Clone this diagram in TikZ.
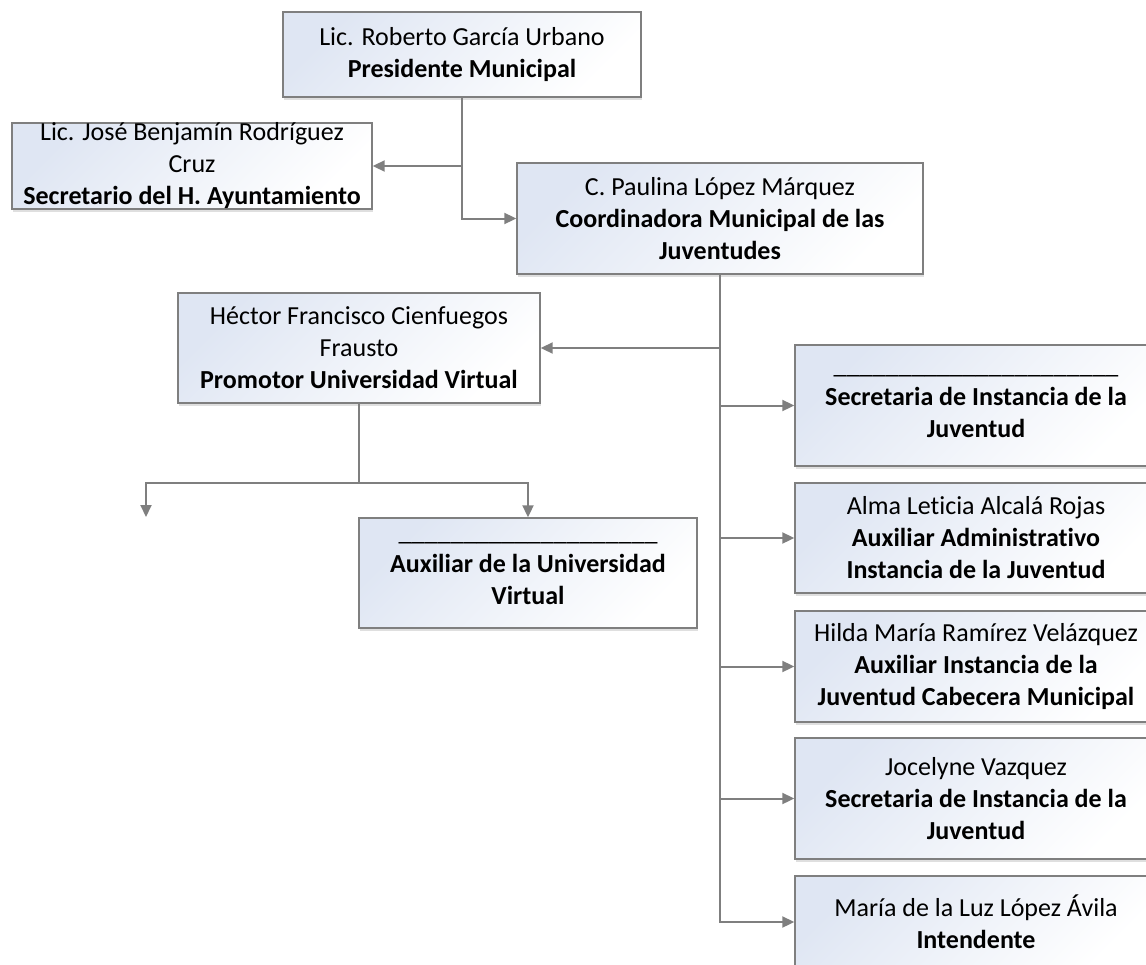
\documentclass[tikz,border=0pt]{standalone}
\usepackage{fontspec}
\setmainfont{Carlito}[Ligatures=CommonOff]
\usetikzlibrary{arrows.meta,shadows}
\definecolor{linegray}{HTML}{7F7F7F}
\definecolor{boxblue}{HTML}{DFE6F3}
\newcommand{\blankline}[1]{\foreach \k in {1,...,#1}{\_}}

\begin{document}
\begin{tikzpicture}[x=1pt,y=-1pt]
                \useasboundingbox (0,0) rectangle (1146,964);
                \clip (0,0) rectangle (1146,964);
                \begin{scope}[every node/.style={draw=linegray, line width=1.4pt, top color=boxblue, bottom color=white, shading angle=45, drop shadow={opacity=0.25, shadow xshift=0.5pt, shadow yshift=-2.5pt}, align=center, inner sep=0pt, minimum width=362pt, minimum height=110pt, font=\fontsize{26}{32}\selectfont}]
                        \node[minimum width=358pt, minimum height=85pt] (Pres) at (462,54.5) {Lic. Roberto García Urbano\\\textbf{Presidente Municipal}};
                        \node[minimum width=360pt, minimum height=86pt] (Sec) at (192,166) {Lic. José Benjamín Rodríguez\\Cruz\\\textbf{Secretario del H. Ayuntamiento}};
                        \node[minimum width=406pt, minimum height=111pt] (Coord) at (720,218.5) {C. Paulina López Márquez\\\textbf{Coordinadora Municipal de las}\\\textbf{Juventudes}};
                        \node (Prom) at (359,348) {Héctor Francisco Cienfuegos\\Frausto\\\textbf{Promotor Universidad Virtual}};
                        \node[minimum width=338pt] (AuxU) at (528,573) {\blankline{20}\\\textbf{Auxiliar de la Universidad}\\\textbf{Virtual}};
                        \node[minimum height=121pt] (SecIJ) at (976,405.5) {\blankline{22}\\\textbf{Secretaria de Instancia de la}\\\textbf{Juventud}};
                        \node (AuxAdm) at (976,538) {Alma Leticia Alcalá Rojas\\\textbf{Auxiliar Administrativo}\\\textbf{Instancia de la Juventud}};
                        \node[minimum height=111pt] (AuxIJ) at (976,666.5) {Hilda María Ramírez Velázquez\\\textbf{Auxiliar Instancia de la}\\\textbf{Juventud Cabecera Municipal}};
                        \node[minimum height=121pt] (SecIJ2) at (976,798.5) {Jocelyne Vazquez\\\textbf{Secretaria de Instancia de la}\\\textbf{Juventud}};
                        \node[minimum height=92pt] (Int) at (976,922) {María de la Luz López Ávila\\\textbf{Intendente}};
                        \coordinate (Vac) at (146,517);
                \end{scope}
                \begin{scope}[every path/.style={draw=linegray, line width=2pt, -{Triangle[length=12pt,width=11pt]}}]
                        \draw (Pres.south) |- (Sec.east);
                        \draw (Pres.south) |- (Coord.west);
                        \draw (Coord.south) |- (Prom.east);
                        \draw (Coord.south) |- (SecIJ.west);
                        \draw (Coord.south) |- (AuxAdm.west);
                        \draw (Coord.south) |- (AuxIJ.west);
                        \draw (Coord.south) |- (SecIJ2.west);
                        \draw (Coord.south) |- (Int.west);
                        \draw (Prom.south) -- ++(0,79) -| (Vac);
                        \draw (Prom.south) -- ++(0,79) -| (AuxU.north);
                \end{scope}
        \end{tikzpicture}
\end{document}
